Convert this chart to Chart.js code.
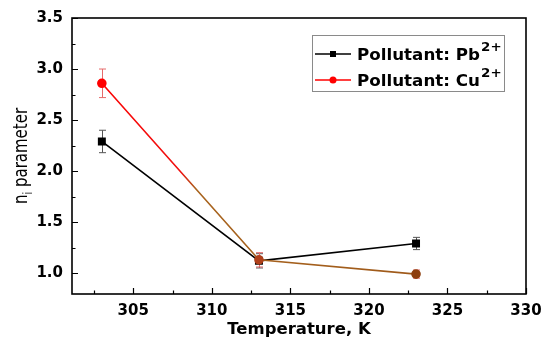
<!DOCTYPE html>
<html>
<head>
<meta charset="utf-8">
<script src="https://cdn.jsdelivr.net/npm/chart.js@4/dist/chart.umd.min.js"></script>
<style>
html,body{margin:0;padding:0;background:#fff;}
#wrap{width:550px;height:345px;position:relative;}
</style>
</head>
<body>
<div id="wrap"><canvas id="c" width="550" height="345"></canvas></div>
<script>
// ---- data ----
const temperatures = [303, 313, 323];
const pbValues = [2.29, 1.12, 1.29];
const pbErrors = [0.11, 0.07, 0.06];
const cuValues = [2.86, 1.13, 0.99];
const cuErrors = [0.14, 0.07, 0.04];
const xTickValues = [305, 310, 315, 320, 325, 330];
const yTickValues = [1.0, 1.5, 2.0, 2.5, 3.0, 3.5];
const seriesLabels = ['Pollutant: Pb', 'Pollutant: Cu'];
const seriesSuper = ['2+', '2+'];
const xTitle = 'Temperature, K';
const yTitleMain = 'n';
const yTitleSub = 'i';
const yTitleRest = ' parameter';

const FONT = '"DejaVu Sans", "Liberation Sans", Arial, sans-serif';

function redBrown(ctx) {
  const ch = ctx.chart;
  const a = ch.chartArea;
  if (!a) return 'red';
  const g = ch.ctx.createLinearGradient(a.left, 0, a.right, 0);
  const xs = ch.scales.x;
  const p1 = (xs.getPixelForValue(308) - a.left) / (a.right - a.left);
  const p2 = (xs.getPixelForValue(309) - a.left) / (a.right - a.left);
  g.addColorStop(0, '#ff0000');
  g.addColorStop(Math.max(0, Math.min(1, p1)), '#f01010');
  g.addColorStop(Math.max(0, Math.min(1, p2)), '#a8641e');
  g.addColorStop(1, '#9a5418');
  return g;
}

const errorAndFrame = {
  id: 'errorAndFrame',
  beforeDatasetsDraw(chart) {
    const ctx = chart.ctx;
    const xs = chart.scales.x, ys = chart.scales.y;
    const sets = [
      {vals: pbValues, errs: pbErrors, color: '#555555'},
      {vals: cuValues, errs: cuErrors, color: '#e66a6a'}
    ];
    ctx.save();
    ctx.lineWidth = 1;
    sets.forEach(s => {
      ctx.strokeStyle = s.color;
      temperatures.forEach((t, i) => {
        const x = Math.round(xs.getPixelForValue(t)) + 0.5;
        const yT = ys.getPixelForValue(s.vals[i] + s.errs[i]);
        const yB = ys.getPixelForValue(s.vals[i] - s.errs[i]);
        ctx.beginPath();
        ctx.moveTo(x, yT); ctx.lineTo(x, yB);
        ctx.moveTo(x - 3.5, yT); ctx.lineTo(x + 3.5, yT);
        ctx.moveTo(x - 3.5, yB); ctx.lineTo(x + 3.5, yB);
        ctx.stroke();
      });
    });
    ctx.restore();
  },
  afterDraw(chart) {
    const ctx = chart.ctx;
    const a = chart.chartArea;
    const xs = chart.scales.x, ys = chart.scales.y;
    ctx.save();
    // frame
    ctx.strokeStyle = '#000';
    ctx.lineWidth = 1.6;
    ctx.strokeRect(a.left, a.top, a.right - a.left, a.bottom - a.top);
    // x ticks (inward)
    ctx.lineWidth = 1.2;
    ctx.beginPath();
    for (let v = 302.5; v <= 330.01; v += 2.5) {
      const x = Math.round(xs.getPixelForValue(v)) + 0.5;
      const major = Math.abs((v / 5) - Math.round(v / 5)) < 1e-6;
      const len = major ? 6 : 3.5;
      ctx.moveTo(x, a.bottom); ctx.lineTo(x, a.bottom - len);
    }
    // y ticks (inward)
    for (let v = 1.0; v <= 3.501; v += 0.25) {
      const y = Math.round(ys.getPixelForValue(v)) + 0.5;
      const major = Math.abs((v / 0.5) - Math.round(v / 0.5)) < 1e-6;
      const len = major ? 6 : 3.5;
      ctx.moveTo(a.left, y); ctx.lineTo(a.left + len, y);
    }
    ctx.stroke();

    // x axis title (slightly widened like the reference)
    ctx.fillStyle = '#000';
    ctx.font = 'bold 15px ' + FONT;
    ctx.textAlign = 'center';
    ctx.textBaseline = 'alphabetic';
    ctx.save();
    ctx.translate((a.left + a.right) / 2, 334);
    ctx.scale(1.1, 1);
    ctx.fillText(xTitle, 0, 0);
    ctx.restore();

    // y title with subscript
    ctx.save();
    ctx.translate(27, (a.top + a.bottom) / 2);
    ctx.rotate(-Math.PI / 2);
    ctx.scale(1, 1.3);
    ctx.textAlign = 'left';
    const fMain = '15px ' + FONT, fSub = '10px ' + FONT;
    ctx.font = fMain; const w1 = ctx.measureText(yTitleMain).width;
    ctx.font = fSub; const w2 = ctx.measureText(yTitleSub).width;
    ctx.font = fMain; const w3 = ctx.measureText(yTitleRest).width;
    let sx = -(w1 + w2 + w3) / 2;
    ctx.font = fMain; ctx.fillText(yTitleMain, sx, 0); sx += w1;
    ctx.font = fSub; ctx.fillText(yTitleSub, sx, 4); sx += w2;
    ctx.font = fMain; ctx.fillText(yTitleRest, sx, 0);
    ctx.restore();

    // legend
    const lx = 312, ly = 35, lw = 192, lh = 56;
    ctx.fillStyle = '#fff';
    ctx.fillRect(lx, ly, lw, lh);
    ctx.strokeStyle = '#8a8a8a';
    ctx.lineWidth = 1;
    ctx.strokeRect(lx + 0.5, ly + 0.5, lw, lh);
    const rows = [
      {color: '#000', marker: 'square', y: 54},
      {color: '#ff0000', marker: 'circle', y: 80}
    ];
    rows.forEach((r, i) => {
      ctx.strokeStyle = r.color;
      ctx.lineWidth = 1.5;
      ctx.beginPath();
      ctx.moveTo(315, r.y); ctx.lineTo(351, r.y);
      ctx.stroke();
      ctx.fillStyle = r.color;
      if (r.marker === 'square') {
        ctx.fillRect(330, r.y - 3, 6, 6);
      } else {
        ctx.beginPath(); ctx.arc(333, r.y, 3.5, 0, Math.PI * 2); ctx.fill();
      }
      ctx.fillStyle = '#000';
      ctx.textAlign = 'left';
      ctx.font = 'bold 15px ' + FONT;
      const tw = ctx.measureText(seriesLabels[i]).width;
      const sc = 123 / tw;
      ctx.save();
      ctx.translate(357, r.y + 6);
      ctx.scale(sc, 1);
      ctx.fillText(seriesLabels[i], 0, 0);
      ctx.font = 'bold 12px ' + FONT;
      ctx.fillText(seriesSuper[i], tw + 1, -9);
      ctx.restore();
    });
    ctx.restore();
  }
};

const chart = new Chart(document.getElementById('c'), {
  type: 'scatter',
  data: {
    datasets: [
      {
        label: seriesLabels[0] + seriesSuper[0],
        data: temperatures.map((t, i) => ({x: t, y: pbValues[i]})),
        showLine: true,
        borderColor: '#000',
        backgroundColor: '#000',
        borderWidth: 1.6,
        pointStyle: 'rect',
        pointRadius: 4.5,
        pointHoverRadius: 4.5,
        order: 2
      },
      {
        label: seriesLabels[1] + seriesSuper[1],
        data: temperatures.map((t, i) => ({x: t, y: cuValues[i]})),
        showLine: true,
        borderColor: redBrown,
        backgroundColor: ['#ff0000', '#b0401a', '#8e4010'],
        pointBorderColor: ['#ff0000', '#b0401a', '#8e4010'],
        borderWidth: 1.6,
        pointStyle: 'circle',
        pointRadius: 4,
        pointHoverRadius: 4,
        order: 1
      }
    ]
  },
  options: {
    responsive: false,
    animation: false,
    events: [],
    layout: {padding: {top: 18, right: 24, left: 0, bottom: 0}},
    plugins: {legend: {display: false}, tooltip: {enabled: false}},
    scales: {
      x: {
        type: 'linear',
        min: 301.1,
        max: 330,
        afterFit(s) { s.height = 51; },
        afterBuildTicks(s) { s.ticks = xTickValues.map(v => ({value: v})); },
        grid: {display: false, drawTicks: false},
        border: {display: false},
        ticks: {
          color: '#000',
          padding: 8,
          maxRotation: 0,
          font: {family: FONT, size: 15, weight: 'bold'},
          callback: v => String(v)
        }
      },
      y: {
        type: 'linear',
        min: 0.795,
        max: 3.5,
        afterFit(s) { s.width = 72; },
        afterBuildTicks(s) { s.ticks = yTickValues.map(v => ({value: v})); },
        grid: {display: false, drawTicks: false},
        border: {display: false},
        ticks: {
          color: '#000',
          padding: 9,
          font: {family: FONT, size: 15, weight: 'bold'},
          callback: v => Number(v).toFixed(1)
        }
      }
    }
  },
  plugins: [errorAndFrame]
});
</script>
</body>
</html>
